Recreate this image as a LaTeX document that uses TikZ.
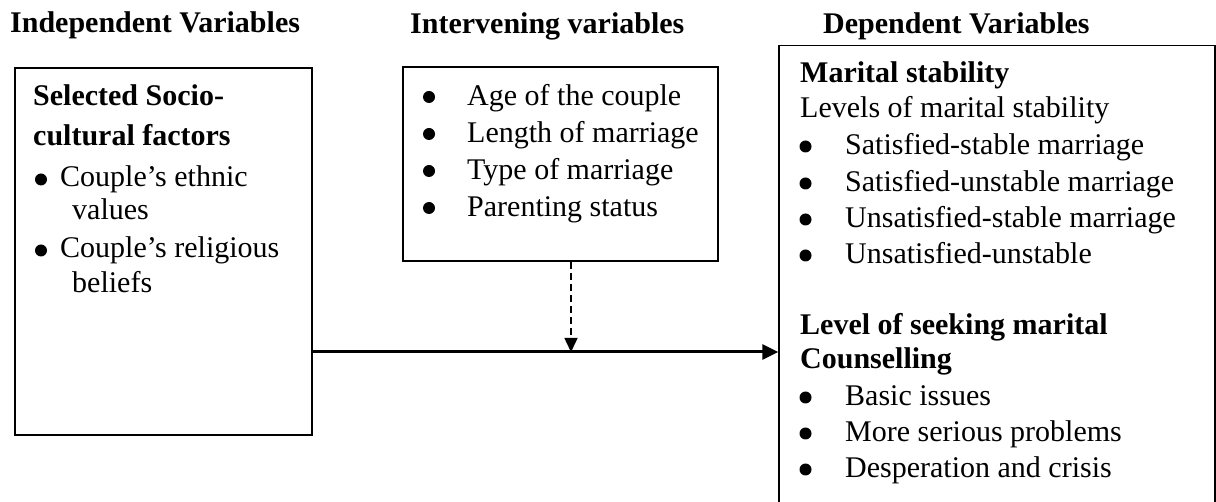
\documentclass[tikz,border=0pt]{standalone}
\usepackage{fontspec}
\setmainfont{Liberation Serif}
\usetikzlibrary{arrows.meta}
\begin{document}
\begin{tikzpicture}[x=1pt,y=-1pt,
  boxnode/.style={draw, line width=2pt, rectangle, inner sep=0pt},
  txt/.style={anchor=base west, inner sep=0pt, font=\fontsize{30}{36}\selectfont},
  bld/.style={anchor=base west, inner sep=0pt, font=\fontsize{30}{36}\selectfont\bfseries},
  bul/.style={circle, fill=black, inner sep=0pt, minimum size=12pt},
  mainarrow/.style={line width=3pt, -{Triangle[length=16pt,width=15pt]}},
  dasharrow/.style={line width=1.5pt, dash pattern=on 7pt off 4pt, -{Triangle[length=14pt,width=13pt]}}]
\useasboundingbox (0,0) rectangle (1216,502);
\clip (0,0) rectangle (1216,502);

% headers
\node[bld] (h1) at (10,33) {Independent Variables};
\node[bld] (h2) at (410,34) {Intervening variables};
\node[bld] (h3) at (823,34) {Dependent Variables};

% boxes
\node[boxnode, minimum width=297.6pt, minimum height=366.7pt] (lbox) at (163.5,251.65) {};
\node[boxnode, minimum width=315.3pt, minimum height=194pt] (ibox) at (560.35,164.3) {};
\node[draw, line width=1.4pt, inner sep=0pt, minimum width=436pt, minimum height=494pt] (rbox) at (997,292.5) {};

% left box text
\node[bld] (l1) at (33,105.5) {Selected Socio-};
\node[bld] (l2) at (33,146) {cultural factors};
\node[bul] (lb1) at (41,179.5) {};
\node[txt] (l3) at (60,187) {Couple’s ethnic};
\node[txt] (l4) at (72,220) {values};
\node[bul] (lb2) at (41,250.5) {};
\node[txt] (l5) at (60,258) {Couple’s religious};
\node[txt] (l6) at (72,293) {beliefs};

% intervening box text
\node[bul] (ib1) at (429,97) {};
\node[txt] (i1) at (467,106) {Age of the couple};
\node[bul] (ib2) at (429,134) {};
\node[txt] (i2) at (467,143) {Length of marriage};
\node[bul] (ib3) at (429,171) {};
\node[txt] (i3) at (467,180) {Type of marriage};
\node[bul] (ib4) at (429,208) {};
\node[txt] (i4) at (467,217) {Parenting status};

% dependent box text
\node[bld] (r1) at (800,83) {Marital stability};
\node[txt] (r2) at (800,118) {Levels of marital stability};
\node[bul] (rb1) at (805.5,146.5) {};
\node[txt] (r3) at (845,155) {Satisfied-stable marriage};
\node[bul] (rb2) at (805.5,183.5) {};
\node[txt] (r4) at (845,192) {Satisfied-unstable marriage};
\node[bul] (rb3) at (805.5,219.5) {};
\node[txt] (r5) at (845,228) {Unsatisfied-stable marriage};
\node[bul] (rb4) at (805.5,255.5) {};
\node[txt] (r6) at (845,264) {Unsatisfied-unstable};
\node[bld] (r7) at (800,335) {Level of seeking marital};
\node[bld] (r8) at (800,369) {Counselling};
\node[bul] (rb5) at (805.5,397.5) {};
\node[txt] (r9) at (845,406) {Basic issues};
\node[bul] (rb6) at (805.5,433.5) {};
\node[txt] (r10) at (845,442) {More serious problems};
\node[bul] (rb7) at (805.5,469.5) {};
\node[txt] (r11) at (845,478) {Desperation and crisis};

% connectors
\coordinate (j) at (571,352);
\draw[mainarrow] (lbox.east |- j) -- (rbox.west |- j);
\draw[dasharrow] (j |- ibox.south) -- (j);
\end{tikzpicture}
\end{document}
